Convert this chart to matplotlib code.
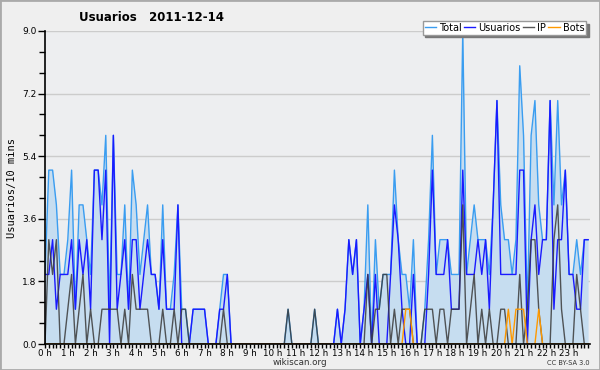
import numpy as np
import matplotlib
matplotlib.use('Agg')
import matplotlib.pyplot as plt
from matplotlib.ticker import MultipleLocator, FixedLocator

# valores cada 10 minutos (144 puntos)
total = [2, 5, 5, 4, 2, 2,  3, 5, 1, 4, 4, 3,  2, 5, 5, 4, 6, 1,  6, 2, 2, 4, 1, 5,
         4, 2, 3, 4, 2, 2,  1, 4, 1, 1, 2, 4,  1, 1, 0, 1, 1, 1,  1, 0, 0, 0, 1, 2,
         2, 0, 0, 0, 0, 0,  0, 0, 0, 0, 0, 0,  0, 0, 0, 0, 1, 0,  0, 0, 0, 0, 0, 1,
         0, 0, 0, 0, 0, 1,  0, 1, 3, 2, 3, 0,  1, 4, 0, 3, 1, 2,  2, 2, 5, 3, 2, 2,
         1, 3, 0, 0, 1, 3,  6, 2, 3, 3, 3, 2,  2, 2, 9, 2, 3, 4,  3, 3, 3, 2, 4, 7,
         4, 3, 3, 2, 3, 8,  6, 1, 6, 7, 4, 3,  3, 7, 4, 7, 4, 5,  2, 2, 3, 2, 3, 3]
usuarios = [2, 2, 3, 1, 2, 2,  2, 3, 1, 3, 2, 3,  1, 5, 5, 3, 5, 0,  6, 1, 2, 3, 1, 3,
            3, 1, 2, 3, 2, 2,  1, 3, 1, 1, 1, 4,  0, 0, 0, 1, 1, 1,  1, 0, 0, 0, 1, 1,
            2, 0, 0, 0, 0, 0,  0, 0, 0, 0, 0, 0,  0, 0, 0, 0, 0, 0,  0, 0, 0, 0, 0, 0,
            0, 0, 0, 0, 0, 1,  0, 1, 3, 2, 3, 0,  1, 2, 0, 2, 0, 0,  0, 2, 4, 3, 1, 0,
            0, 2, 0, 0, 0, 2,  5, 2, 2, 2, 3, 1,  1, 1, 5, 2, 2, 2,  3, 2, 3, 1, 4, 7,
            2, 2, 2, 2, 2, 5,  5, 0, 3, 4, 2, 3,  3, 7, 1, 3, 3, 5,  2, 2, 1, 1, 3, 3]
ip = [0, 3, 2, 3, 0, 0,  1, 2, 0, 1, 2, 0,  1, 0, 0, 1, 1, 1,  1, 1, 0, 1, 0, 2,
      1, 1, 1, 1, 0, 0,  0, 1, 0, 0, 1, 0,  1, 1, 0, 0, 0, 0,  0, 0, 0, 0, 0, 1,
      0, 0, 0, 0, 0, 0,  0, 0, 0, 0, 0, 0,  0, 0, 0, 0, 1, 0,  0, 0, 0, 0, 0, 1,
      0, 0, 0, 0, 0, 0,  0, 0, 0, 0, 0, 0,  0, 2, 0, 1, 1, 2,  2, 0, 1, 0, 1, 1,
      1, 0, 0, 0, 1, 1,  1, 0, 1, 1, 0, 1,  1, 1, 4, 0, 1, 2,  0, 1, 0, 1, 0, 0,
      1, 1, 0, 0, 0, 2,  0, 1, 3, 3, 1, 0,  0, 0, 3, 4, 1, 0,  0, 0, 2, 1, 0, 0]
bots = [0] * 95 + [1, 1] + [0] * 25 + [1, 0, 1, 1, 1, 0, 0, 0, 1] + [0] * 13
horas = [f'{h} h' for h in range(24)]

x = np.arange(len(total))

fig = plt.figure(figsize=(6, 3.7), dpi=100, facecolor='#efefef')
ax = fig.add_axes([45/600, 26/370, 545/600, 313/370])
ax.set_facecolor('#edeef0')

ax.fill_between(x, total, 0, color='#c6ddf0', lw=0)
ax.plot(x, total, color='#3a9df0', lw=1, label='Total')
ax.plot(x, usuarios, color='#1a1aff', lw=1, label='Usuarios')
ax.plot(x, ip, color='#3a3a3a', lw=1, alpha=0.85, label='IP')
ax.plot(x, bots, color='#ff9900', lw=1, label='Bots')

ax.set_xlim(0, 143.5)
ax.set_ylim(0, 9.0)
ax.yaxis.set_major_locator(MultipleLocator(1.8))
ax.yaxis.set_minor_locator(MultipleLocator(0.6))
ax.yaxis.set_major_formatter(matplotlib.ticker.FormatStrFormatter('%.1f'))
ax.xaxis.set_major_locator(FixedLocator(np.arange(0, 144, 6)))
ax.xaxis.set_minor_locator(MultipleLocator(1))
ax.set_xticklabels(horas)
ax.tick_params(axis='y', labelsize=6.5, pad=1)
ax.tick_params(axis='x', labelsize=6.3, pad=0.5)
ax.tick_params(axis='y', which='major', length=5, width=1)
ax.tick_params(axis='y', which='minor', length=4, width=1)
ax.tick_params(axis='x', which='major', length=3, width=1)
ax.tick_params(axis='x', which='minor', length=3, width=1)
ax.grid(axis='y', color='#cccccc', lw=1)
ax.set_axisbelow(True)
for s in ['top', 'right']:
    ax.spines[s].set_visible(False)
ax.spines['left'].set_linewidth(1.2)
ax.spines['bottom'].set_linewidth(1.2)

ax.set_ylabel('Usuarios/10 mins', family='DejaVu Sans Mono', fontsize=7.5, labelpad=4)

fig.text(0.252, 0.953, 'Usuarios   2011-12-14', fontsize=8.5, fontweight='bold',
         ha='center', va='center')
fig.text(0.5, 0.019, 'wikiscan.org', fontsize=6.3, ha='center', va='center', color='#333333')
fig.text(0.983, 0.019, 'CC BY-SA 3.0', fontsize=4.8, ha='right', va='center', color='#333333')

leg = fig.legend(loc='upper right', bbox_to_anchor=(0.985, 0.957), ncol=4, fontsize=7,
                 handlelength=1.2, handletextpad=0.3, columnspacing=0.2,
                 borderpad=0.2, fancybox=False, framealpha=1, edgecolor='#999999',
                 shadow={'color': '#777777', 'alpha': 1})
leg.get_frame().set_linewidth(1)

fig.patches.append(plt.Rectangle((0, 0), 1, 1, transform=fig.transFigure, fill=False,
                                 edgecolor='#aaaaaa', lw=2, zorder=10))

fig.savefig('out.png', dpi=100, facecolor=fig.get_facecolor())
